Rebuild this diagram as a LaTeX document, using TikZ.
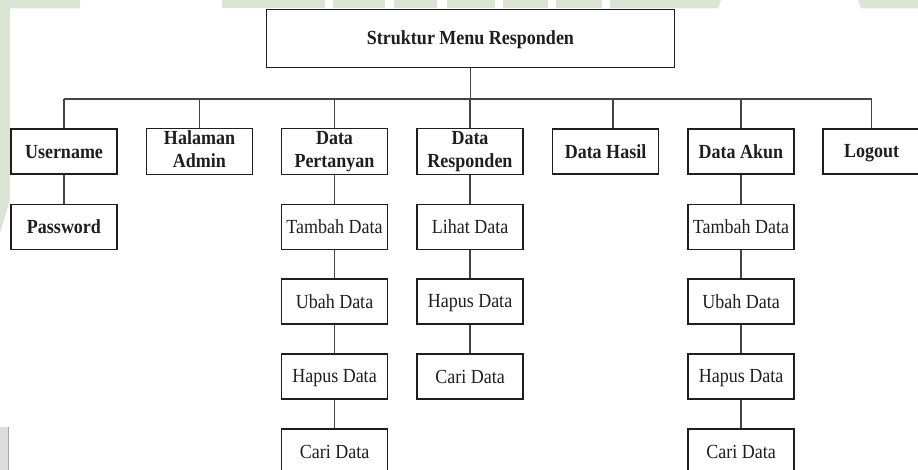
\documentclass[tikz,border=0pt]{standalone}
\usepackage{fontspec}
\setmainfont{Liberation Serif}
\newcommand\narrowtext[1]{\scalebox{0.9}[1]{\vrule height 16pt depth 2pt width 0pt#1}}
\newcommand\twolines[2]{\scalebox{0.9}[1]{\begin{tabular}{@{}c@{}}#1\\#2\end{tabular}}}
\definecolor{wmgreen}{HTML}{DAE5D4}
\definecolor{wmgray}{HTML}{DCDCDC}
\definecolor{ink}{HTML}{1E1E1E}
\definecolor{wire}{HTML}{444444}
\tikzset{
  menubox/.style={draw=ink, line width=1.3pt, minimum width=106pt, minimum height=45pt,
    inner sep=0pt, text=ink, font=\fontsize{20}{23}\selectfont},
  mainbox/.style={menubox, font=\fontsize{20}{23}\selectfont\bfseries},
  wiring/.style={draw=wire, line width=1.4pt},
}
\begin{document}
\begin{tikzpicture}[x=1pt, y=-1pt]
\useasboundingbox (0,0) rectangle (918,470);
% background watermark pieces
\fill[wmgreen] (0,0) -- (80,0) -- (80,8.5) -- (10,8.5) -- (10,200) -- (0,233) -- cycle;
\foreach \a/\b in {222/325, 333/385, 394/437, 447/495, 503/548, 556/602}
  \fill[wmgreen] (\a,0) rectangle (\b,8.5);
\fill[wmgreen] (610,0) -- (721,0) -- (718,8.5) -- (610,8.5) -- cycle;
\fill[wmgreen] (858,0) -- (918,0) -- (918,8.5) -- (861,8.5) -- cycle;
\fill[wmgray] (0,427) rectangle (8,470);
\draw[gray!70, line width=0.8pt] (8,427) -- (8,470);

% title
\node[mainbox, minimum width=408pt, minimum height=58pt] (title) at (470.5,38.5) {\narrowtext{Struktur Menu Responden}};

% first level
\node[mainbox] (user) at (64,151.5) {\narrowtext{Username}};
\node[mainbox] (admin) at (199.5,151.5) {\twolines{Halaman}{Admin}};
\node[mainbox] (tanya) at (334.5,151.5) {\twolines{Data}{Pertanyan}};
\node[mainbox] (resp) at (470,151.5) {\twolines{Data}{Responden}};
\node[mainbox] (hasil) at (605.5,151.5) {\narrowtext{Data Hasil}};
\node[mainbox] (akun) at (741,151.5) {\narrowtext{Data Akun}};
\node[mainbox, minimum width=97pt] (logout) at (871.5,151.5) {\narrowtext{Logout}};

% second level and below
\node[mainbox] (pass) at (64,227) {\narrowtext{Password}};

\node[menubox] (t1) at (334.5,227) {\narrowtext{Tambah Data}};
\node[menubox] (u1) at (334.5,301.5) {\narrowtext{Ubah Data}};
\node[menubox] (h1) at (334.5,376.5) {\narrowtext{Hapus Data}};
\node[menubox] (c1) at (334.5,451.5) {\narrowtext{Cari Data}};

\node[menubox] (l2) at (470,227) {\narrowtext{Lihat Data}};
\node[menubox] (h2) at (470,301.5) {\narrowtext{Hapus Data}};
\node[menubox] (c2) at (470,376.5) {\narrowtext{Cari Data}};

\node[menubox] (t3) at (741,227) {\narrowtext{Tambah Data}};
\node[menubox] (u3) at (741,301.5) {\narrowtext{Ubah Data}};
\node[menubox] (h3) at (741,376.5) {\narrowtext{Hapus Data}};
\node[menubox] (c3) at (741,451.5) {\narrowtext{Cari Data}};

% bus from the title to the first level
\coordinate (busL) at (64,99);
\coordinate (busR) at (871.5,99);
\draw[wiring] (title.south) -- (title.south |- busL);
\draw[wiring] (busL) -- (busR);
\foreach \n in {user, admin, tanya, resp, akun, logout}
  \draw[wiring] (\n.north |- busL) -- (\n.north);
\draw[wiring] ([xshift=7.5pt]hasil.north |- busL) -- ([xshift=7.5pt]hasil.north);

% chains below
\draw[wiring] (user) -- (pass);
\draw[wiring] (tanya) -- (t1) (t1) -- (u1) (u1) -- (h1) (h1) -- (c1);
\draw[wiring] (resp) -- (l2) (l2) -- (h2) (h2) -- (c2);
\draw[wiring] (akun) -- (t3) (t3) -- (u3) (u3) -- (h3) (h3) -- (c3);
\end{tikzpicture}
\end{document}
